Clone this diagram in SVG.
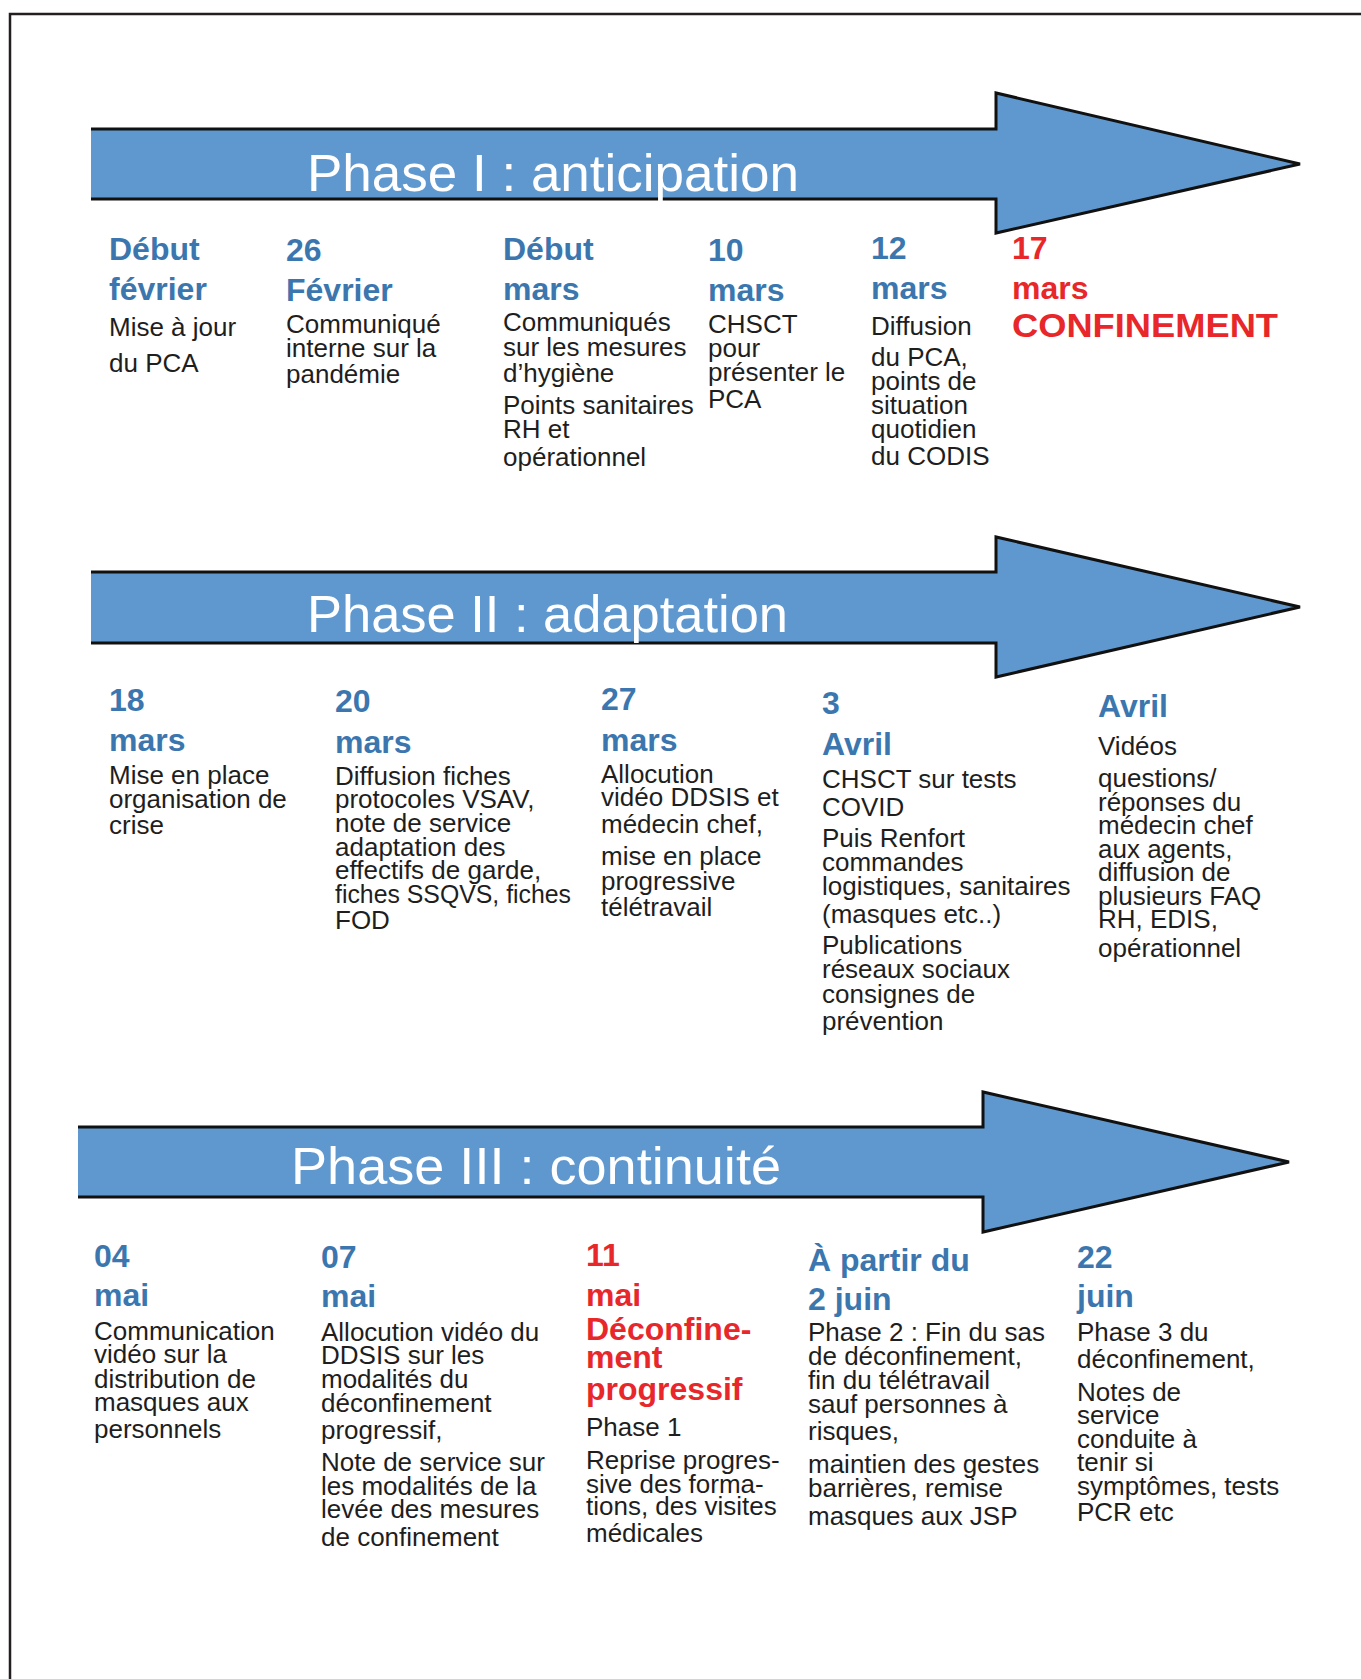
<svg xmlns="http://www.w3.org/2000/svg" width="1361" height="1679" viewBox="0 0 1361 1679">
<style>
.bg{fill:#ffffff}
.frame{fill:none;stroke:#231f20;stroke-width:2.5}
.arrow{fill:#5f98cf}
.outline{fill:none;stroke:#111111;stroke-width:3;stroke-linejoin:miter}
.title{font-family:"Liberation Sans",Arial,sans-serif;font-size:52px;fill:#ffffff}
.h{font-family:"Liberation Sans",Arial,sans-serif;font-size:32px;font-weight:bold;fill:#3b77ae}
.hr{font-family:"Liberation Sans",Arial,sans-serif;font-size:32px;font-weight:bold;fill:#e8272a}
.b{font-family:"Liberation Sans",Arial,sans-serif;font-size:26px;fill:#1e1e1e}
</style>
<rect class="bg" x="0" y="0" width="1361" height="1679"/>
<path class="frame" d="M10,1679 V14 H1361"/>

<g id="phase1">
<polygon class="arrow" points="91,129 996,129 996,93 1300,164 996,233 996,199 91,199"/>
<polyline class="outline" points="91,129 996,129 996,93 1300,164 996,233 996,199 91,199"/>
<text class="title" x="307" y="191" textLength="492" lengthAdjust="spacingAndGlyphs">Phase I : anticipation</text>
</g>
<g id="phase2">
<polygon class="arrow" points="91,572 996,572 996,537 1300,607 996,677 996,643 91,643"/>
<polyline class="outline" points="91,572 996,572 996,537 1300,607 996,677 996,643 91,643"/>
<text class="title" x="307" y="632" textLength="481" lengthAdjust="spacingAndGlyphs">Phase II : adaptation</text>
</g>
<g id="phase3">
<polygon class="arrow" points="78,1127 983,1127 983,1092 1289,1162 983,1232 983,1197 78,1197"/>
<polyline class="outline" points="78,1127 983,1127 983,1092 1289,1162 983,1232 983,1197 78,1197"/>
<text class="title" x="291" y="1184" textLength="490" lengthAdjust="spacingAndGlyphs">Phase III : continuité</text>
</g>

<g id="connectors"/>

<!-- Phase I events -->
<g id="ev-debut-fevrier">
<text class="h"><tspan x="109" y="260">Début</tspan><tspan x="109" y="300">février</tspan></text>
<text class="b"><tspan x="109" y="336">Mise à jour</tspan><tspan x="109" y="372">du PCA</tspan></text>
</g>
<g id="ev-26-fevrier">
<text class="h"><tspan x="286" y="261">26</tspan><tspan x="286" y="301">Février</tspan></text>
<text class="b"><tspan x="286" y="333">Communiqué</tspan><tspan x="286" y="357">interne sur la</tspan><tspan x="286" y="383">pandémie</tspan></text>
</g>
<g id="ev-debut-mars">
<text class="h"><tspan x="503" y="260">Début</tspan><tspan x="503" y="300">mars</tspan></text>
<text class="b"><tspan x="503" y="331">Communiqués</tspan><tspan x="503" y="356">sur les mesures</tspan><tspan x="503" y="382">d’hygiène</tspan><tspan x="503" y="414">Points sanitaires</tspan><tspan x="503" y="438">RH et</tspan><tspan x="503" y="466">opérationnel</tspan></text>
</g>
<g id="ev-10-mars">
<text class="h"><tspan x="708" y="261">10</tspan><tspan x="708" y="301">mars</tspan></text>
<text class="b"><tspan x="708" y="333">CHSCT</tspan><tspan x="708" y="357">pour</tspan><tspan x="708" y="381">présenter le</tspan><tspan x="708" y="408">PCA</tspan></text>
</g>
<g id="ev-12-mars">
<text class="h"><tspan x="871" y="259">12</tspan><tspan x="871" y="299">mars</tspan></text>
<text class="b"><tspan x="871" y="335">Diffusion</tspan><tspan x="871" y="366">du PCA,</tspan><tspan x="871" y="390">points de</tspan><tspan x="871" y="414">situation</tspan><tspan x="871" y="438">quotidien</tspan><tspan x="871" y="465">du CODIS</tspan></text>
</g>
<g id="ev-17-mars">
<text class="hr"><tspan x="1012" y="259">17</tspan><tspan x="1012" y="299">mars</tspan></text>
<text class="hr" x="1012" y="337" style="font-size:34px" textLength="266" lengthAdjust="spacingAndGlyphs">CONFINEMENT</text>
</g>

<!-- Phase II events -->
<g id="ev-18-mars">
<text class="h"><tspan x="109" y="711">18</tspan><tspan x="109" y="751">mars</tspan></text>
<text class="b"><tspan x="109" y="784">Mise en place</tspan><tspan x="109" y="808">organisation de</tspan><tspan x="109" y="834">crise</tspan></text>
</g>
<g id="ev-20-mars">
<text class="h"><tspan x="335" y="712">20</tspan><tspan x="335" y="753">mars</tspan></text>
<text class="b"><tspan x="335" y="785">Diffusion fiches</tspan><tspan x="335" y="808">protocoles VSAV,</tspan><tspan x="335" y="832">note de service</tspan><tspan x="335" y="856">adaptation des</tspan><tspan x="335" y="879">effectifs de garde,</tspan><tspan x="335" y="903" textLength="236" lengthAdjust="spacingAndGlyphs">fiches SSQVS, fiches</tspan><tspan x="335" y="929">FOD</tspan></text>
</g>
<g id="ev-27-mars">
<text class="h"><tspan x="601" y="710">27</tspan><tspan x="601" y="751">mars</tspan></text>
<text class="b"><tspan x="601" y="783">Allocution</tspan><tspan x="601" y="806">vidéo DDSIS et</tspan><tspan x="601" y="833">médecin chef,</tspan><tspan x="601" y="865">mise en place</tspan><tspan x="601" y="890">progressive</tspan><tspan x="601" y="916">télétravail</tspan></text>
</g>
<g id="ev-3-avril">
<text class="h"><tspan x="822" y="714">3</tspan><tspan x="822" y="755">Avril</tspan></text>
<text class="b"><tspan x="822" y="788">CHSCT sur tests</tspan><tspan x="822" y="816">COVID</tspan><tspan x="822" y="847">Puis Renfort</tspan><tspan x="822" y="871">commandes</tspan><tspan x="822" y="895">logistiques, sanitaires</tspan><tspan x="822" y="923">(masques etc..)</tspan><tspan x="822" y="954">Publications</tspan><tspan x="822" y="978">réseaux sociaux</tspan><tspan x="822" y="1003">consignes de</tspan><tspan x="822" y="1030">prévention</tspan></text>
</g>
<g id="ev-avril">
<text class="h" x="1098" y="717">Avril</text>
<text class="b"><tspan x="1098" y="755">Vidéos</tspan><tspan x="1098" y="787">questions/</tspan><tspan x="1098" y="811">réponses du</tspan><tspan x="1098" y="834">médecin chef</tspan><tspan x="1098" y="858">aux agents,</tspan><tspan x="1098" y="881">diffusion de</tspan><tspan x="1098" y="905">plusieurs FAQ</tspan><tspan x="1098" y="928">RH, EDIS,</tspan><tspan x="1098" y="957">opérationnel</tspan></text>
</g>

<!-- Phase III events -->
<g id="ev-04-mai">
<text class="h"><tspan x="94" y="1267">04</tspan><tspan x="94" y="1306">mai</tspan></text>
<text class="b"><tspan x="94" y="1340">Communication</tspan><tspan x="94" y="1363">vidéo sur la</tspan><tspan x="94" y="1388">distribution de</tspan><tspan x="94" y="1411">masques aux</tspan><tspan x="94" y="1438">personnels</tspan></text>
</g>
<g id="ev-07-mai">
<text class="h"><tspan x="321" y="1268">07</tspan><tspan x="321" y="1307">mai</tspan></text>
<text class="b"><tspan x="321" y="1341">Allocution vidéo du</tspan><tspan x="321" y="1364">DDSIS sur les</tspan><tspan x="321" y="1388">modalités du</tspan><tspan x="321" y="1412">déconfinement</tspan><tspan x="321" y="1439">progressif,</tspan><tspan x="321" y="1471">Note de service sur</tspan><tspan x="321" y="1495">les modalités de la</tspan><tspan x="321" y="1518">levée des mesures</tspan><tspan x="321" y="1546">de confinement</tspan></text>
</g>
<g id="ev-11-mai">
<text class="hr"><tspan x="586" y="1266">11</tspan><tspan x="586" y="1306">mai</tspan><tspan x="586" y="1340">Déconfine-</tspan><tspan x="586" y="1368">ment</tspan><tspan x="586" y="1400">progressif</tspan></text>
<text class="b"><tspan x="586" y="1436">Phase 1</tspan><tspan x="586" y="1469">Reprise progres-</tspan><tspan x="586" y="1493">sive des forma-</tspan><tspan x="586" y="1515">tions, des visites</tspan><tspan x="586" y="1542">médicales</tspan></text>
</g>
<g id="ev-2-juin">
<text class="h"><tspan x="808" y="1271">À partir du</tspan><tspan x="808" y="1310">2 juin</tspan></text>
<text class="b"><tspan x="808" y="1341">Phase 2 :  Fin du sas</tspan><tspan x="808" y="1365">de déconfinement,</tspan><tspan x="808" y="1389">fin du télétravail</tspan><tspan x="808" y="1413">sauf personnes à</tspan><tspan x="808" y="1440">risques,</tspan><tspan x="808" y="1473">maintien des gestes</tspan><tspan x="808" y="1497">barrières, remise</tspan><tspan x="808" y="1525">masques aux JSP</tspan></text>
</g>
<g id="ev-22-juin">
<text class="h"><tspan x="1077" y="1268">22</tspan><tspan x="1077" y="1307">juin</tspan></text>
<text class="b"><tspan x="1077" y="1341">Phase 3 du</tspan><tspan x="1077" y="1368">déconfinement,</tspan><tspan x="1077" y="1401">Notes de</tspan><tspan x="1077" y="1424">service</tspan><tspan x="1077" y="1448">conduite à</tspan><tspan x="1077" y="1471">tenir si</tspan><tspan x="1077" y="1495">symptômes, tests</tspan><tspan x="1077" y="1521">PCR etc</tspan></text>
</g>
</svg>
